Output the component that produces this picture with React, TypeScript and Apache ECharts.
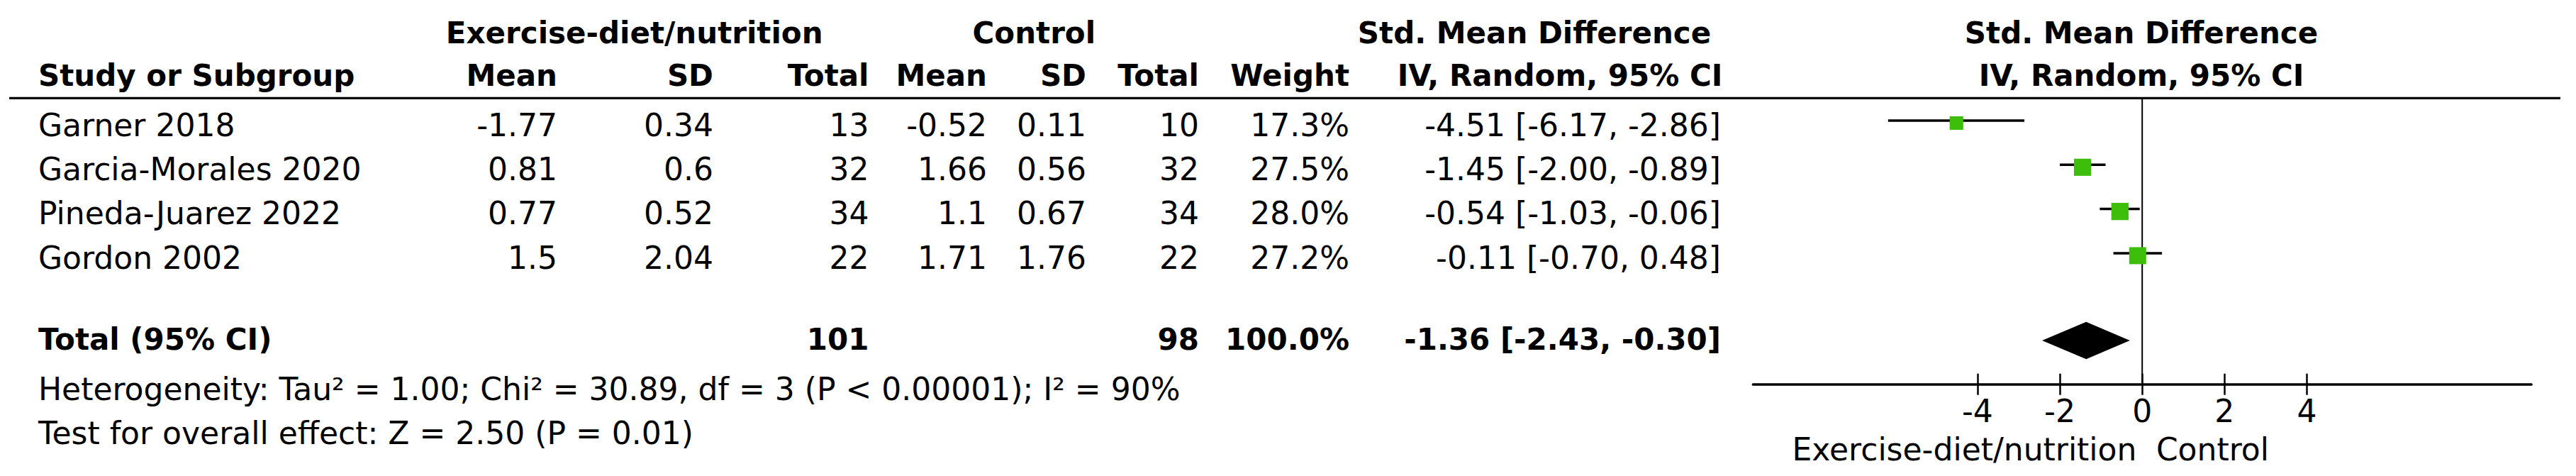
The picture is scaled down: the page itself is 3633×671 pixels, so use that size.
import React, { useEffect, useRef } from "react";
import * as echarts from "echarts";

// ---------------- data ----------------
const studyNames = ["Garner 2018", "Garcia-Morales 2020", "Pineda-Juarez 2022", "Gordon 2002"];
const expMean = [-1.77, 0.81, 0.77, 1.5];
const expSD = [0.34, 0.6, 0.52, 2.04];
const expTotal = [13, 32, 34, 22];
const ctlMean = [-0.52, 1.66, 1.1, 1.71];
const ctlSD = [0.11, 0.56, 0.67, 1.76];
const ctlTotal = [10, 32, 34, 22];
const weights = [17.3, 27.5, 28.0, 27.2];
const smd = [-4.51, -1.45, -0.54, -0.11];
const ciLow = [-6.17, -2.0, -1.03, -0.7];
const ciHigh = [-2.86, -0.89, -0.06, 0.48];

const totalLabel = "Total (95% CI)";
const totalExp = 101;
const totalCtl = 98;
const totalWeight = 100.0;
const pooledEstimate = [-1.36, -2.43, -0.3]; // est, low, high

const heterogeneityText = "Heterogeneity: Tau² = 1.00; Chi² = 30.89, df = 3 (P < 0.00001); I² = 90%";
const overallEffectText = "Test for overall effect: Z = 2.50 (P = 0.01)";

const groupHeaders = ["Exercise-diet/nutrition", "Control", "Std. Mean Difference", "Std. Mean Difference"];
const columnHeaders = ["Study or Subgroup", "Mean", "SD", "Total", "Mean", "SD", "Total", "Weight", "IV, Random, 95% CI", "IV, Random, 95% CI"];
const tickValues = [-4, -2, 0, 2, 4];
const favoursLabels = ["Exercise-diet/nutrition", "Control"];

// ---------------- layout / style ----------------
const FONT = "DejaVu Sans";
const FS = 44;
const FS_B = 42;
const GREEN = "#3cbe0a";
const X_MIN = -9.45;
const X_MAX = 9.45;
const Y_MIN = -0.565;
const Y_MAX = 5.91;
const TOTAL_ROW = 4.92;
const GRID = { left: 2472.3, top: 138.3, width: 1097.8, height: 403.4 };

const ROW0_Y = 176.3;
const ROW_H = 62.3;
const TOTAL_Y = 478;
const HET_Y = 548;
const TEST_Y = 610;
const HEAD1_Y = 46;
const HEAD2_Y = 106;

const NAME_X = 54;
const COL_RIGHT = [786, 1006, 1225.5, 1392, 1532, 1691, 1903, 2427];
const GROUP_CENTERS = [894.7, 1458.3, 2164, 3020];
const CI_HEAD_CENTERS = [2200, 3020];

const fmt2 = (v: number) => v.toFixed(2);
const ciText = (e: number, l: number, h: number) => `${fmt2(e)} [${fmt2(l)}, ${fmt2(h)}]`;

function txt(text: string, x: number, y: number, align: string, bold = false) {
  return {
    type: "text",
    x,
    y,
    silent: true,
    style: {
      text,
      fill: "#000",
      fontFamily: FONT,
      fontSize: bold ? FS_B : FS,
      fontWeight: bold ? "bold" : "normal",
      align,
      verticalAlign: "middle",
      textAlign: align,
      textVerticalAlign: "middle",
    },
  };
}

export default function App() {
  const ref = useRef<HTMLDivElement>(null);

  useEffect(() => {
    if (!ref.current) return;
    const chart = echarts.init(ref.current, null, { renderer: "svg" });

    const graphics: any[] = [];
    // group headers
    groupHeaders.forEach((h, i) => graphics.push(txt(h, GROUP_CENTERS[i], HEAD1_Y, "center", true)));
    // column headers
    graphics.push(txt(columnHeaders[0], NAME_X, HEAD2_Y, "left", true));
    for (let c = 1; c <= 7; c++) graphics.push(txt(columnHeaders[c], COL_RIGHT[c - 1], HEAD2_Y, "right", true));
    graphics.push(txt(columnHeaders[8], CI_HEAD_CENTERS[0], HEAD2_Y, "center", true));
    graphics.push(txt(columnHeaders[9], CI_HEAD_CENTERS[1], HEAD2_Y, "center", true));
    // header rule
    graphics.push({
      type: "line",
      silent: true,
      shape: { x1: 13, y1: 138.3, x2: 3611, y2: 138.3 },
      style: { stroke: "#000", lineWidth: 3.3 },
    });
    // study rows
    studyNames.forEach((name, i) => {
      const y = ROW0_Y + i * ROW_H;
      const cells = [
        String(expMean[i]),
        String(expSD[i]),
        String(expTotal[i]),
        String(ctlMean[i]),
        String(ctlSD[i]),
        String(ctlTotal[i]),
        weights[i].toFixed(1) + "%",
        ciText(smd[i], ciLow[i], ciHigh[i]),
      ];
      graphics.push(txt(name, NAME_X, y, "left"));
      cells.forEach((c, k) => graphics.push(txt(c, COL_RIGHT[k], y, "right")));
    });
    // total row
    graphics.push(txt(totalLabel, NAME_X, TOTAL_Y, "left", true));
    graphics.push(txt(String(totalExp), COL_RIGHT[2], TOTAL_Y, "right", true));
    graphics.push(txt(String(totalCtl), COL_RIGHT[5], TOTAL_Y, "right", true));
    graphics.push(txt(totalWeight.toFixed(1) + "%", COL_RIGHT[6], TOTAL_Y, "right", true));
    graphics.push(
      txt(ciText(pooledEstimate[0], pooledEstimate[1], pooledEstimate[2]), COL_RIGHT[7], TOTAL_Y, "right", true)
    );
    // footer
    graphics.push(txt(heterogeneityText, NAME_X, HET_Y, "left"));
    graphics.push(txt(overallEffectText, NAME_X, TEST_Y, "left"));
    // favours labels
    graphics.push(txt(favoursLabels[0], 3013.4, 633, "right"));
    graphics.push(txt(favoursLabels[1], 3040.9, 633, "left"));

    const studyData = smd.map((e, i) => [e, i, ciLow[i], ciHigh[i], weights[i]]);

    const option: any = {
      animation: false,
      backgroundColor: "#fff",
      grid: { ...GRID, containLabel: false },
      xAxis: [
        {
          type: "value",
          min: X_MIN,
          max: X_MAX,
          position: "bottom",
          axisLine: { show: true, onZero: false, lineStyle: { color: "#000", width: 3.5 } },
          axisTick: {
            show: true,
            length: 15,
            customValues: tickValues,
            lineStyle: { color: "#000", width: 2.5 },
          },
          axisLabel: {
            show: true,
            customValues: tickValues,
            formatter: (v: number) => String(v),
            fontFamily: FONT,
            fontSize: FS,
            color: "#000",
            margin: 16,
          },
          splitLine: { show: false },
        },
        {
          type: "value",
          min: X_MIN,
          max: X_MAX,
          position: "bottom",
          offset: 0,
          axisLine: { show: false, onZero: false },
          axisTick: {
            show: true,
            inside: true,
            length: 15,
            customValues: tickValues,
            lineStyle: { color: "#000", width: 2.5 },
          },
          axisLabel: { show: false },
          splitLine: { show: false },
        },
      ],
      yAxis: {
        type: "value",
        min: Y_MIN,
        max: Y_MAX,
        inverse: true,
        show: false,
        splitLine: { show: false },
      },
      series: [
        {
          type: "line",
          xAxisIndex: 0,
          z: 2,
          silent: true,
          symbol: "none",
          data: [
            [0, Y_MIN],
            [0, Y_MAX],
          ],
          lineStyle: { color: "#000", width: 2 },
        },
        {
          type: "custom",
          xAxisIndex: 0,
          z: 3,
          silent: true,
          data: studyData,
          renderItem: (params: any, api: any) => {
            const est = api.value(0);
            const row = api.value(1);
            const lo = api.value(2);
            const hi = api.value(3);
            const w = api.value(4);
            const pLo = api.coord([lo, row]);
            const pHi = api.coord([hi, row]);
            const pE = api.coord([est, row]);
            const size = 4.6 * Math.sqrt(w);
            return {
              type: "group",
              children: [
                {
                  type: "line",
                  shape: { x1: pLo[0], y1: pLo[1] - 3.5, x2: pHi[0], y2: pHi[1] - 3.5 },
                  style: { stroke: "#000", lineWidth: 3.5 },
                },
                {
                  type: "rect",
                  shape: { x: pE[0] - size / 2, y: pE[1] - size / 2, width: size, height: size },
                  style: { fill: GREEN },
                },
              ],
            };
          },
        },
        {
          type: "custom",
          xAxisIndex: 0,
          z: 3,
          silent: true,
          data: [[pooledEstimate[0], TOTAL_ROW, pooledEstimate[1], pooledEstimate[2]]],
          renderItem: (params: any, api: any) => {
            const row = api.value(1);
            const pE = api.coord([api.value(0), row]);
            const pLo = api.coord([api.value(2), row]);
            const pHi = api.coord([api.value(3), row]);
            const half = 26.3;
            return {
              type: "polygon",
              shape: {
                points: [
                  [pLo[0], pLo[1]],
                  [pE[0], pE[1] - half],
                  [pHi[0], pHi[1]],
                  [pE[0], pE[1] + half],
                ],
              },
              style: { fill: "#000" },
            };
          },
        },
      ],
      graphic: graphics,
    };

    chart.setOption(option);
    return () => chart.dispose();
  }, []);

  return (
    <div
      ref={ref}
      style={{ position: "absolute", left: 0, top: 0, width: 3633, height: 671, background: "#fff" }}
    />
  );
}
